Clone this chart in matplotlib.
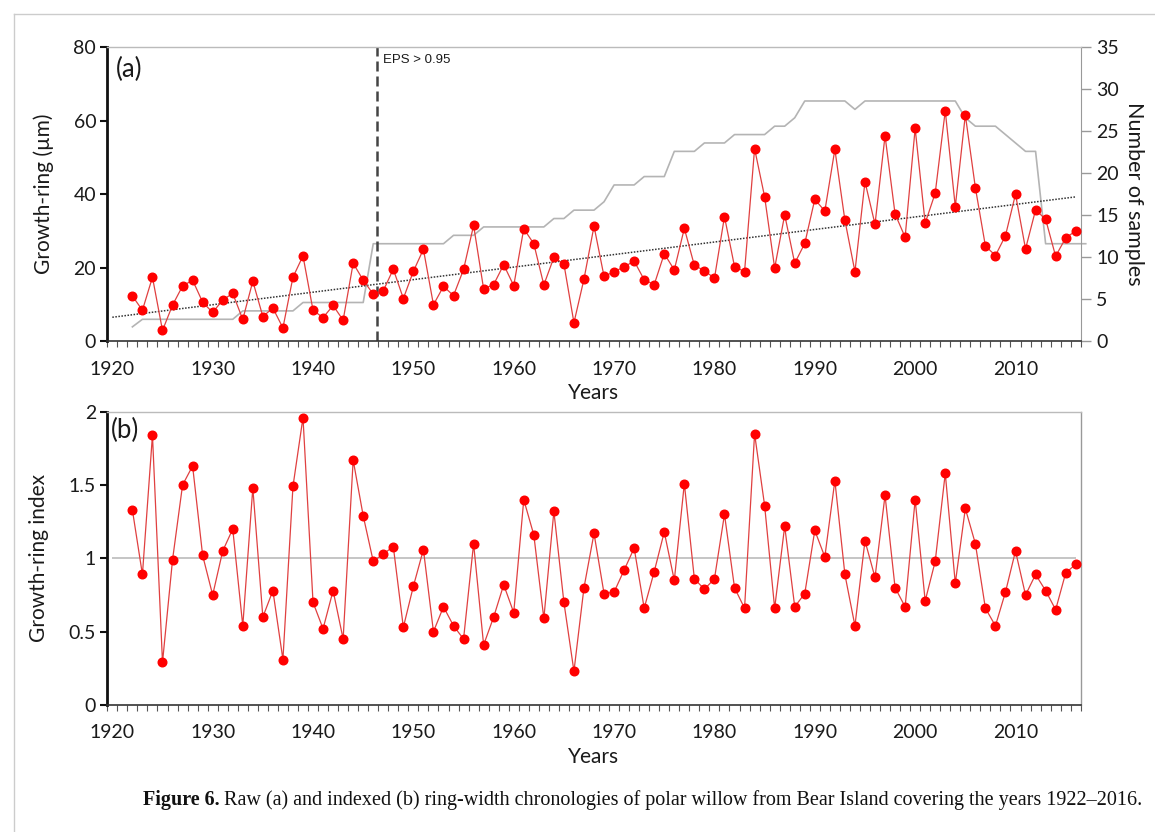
import numpy as np
import matplotlib
matplotlib.use("Agg")
import matplotlib.pyplot as plt
from matplotlib.lines import Line2D
from matplotlib.ticker import MultipleLocator, FixedLocator

plt.rcParams['font.family'] = ['Lato', 'DejaVu Sans']

# raw ring width (um), 1922-2016
years = np.arange(1922, 2017)
raw_width = [
    12.3, 8.4, 17.4, 2.9, 9.8, 15.0, 16.6, 10.6, 7.8, 11.2,
    13.0, 5.9, 16.3, 6.7, 9.0, 3.6, 17.4, 23.2, 8.4, 6.4,
    9.7, 5.7, 21.2, 16.6, 12.8, 13.7, 19.6, 11.6, 19.0, 25.0,
    9.9, 14.9, 12.4, 19.5, 31.5, 14.2, 15.4, 20.8, 15.1, 30.6,
    26.5, 15.3, 22.8, 21.0, 5.0, 16.9, 31.3, 17.6, 18.9, 20.2,
    21.8, 16.7, 15.4, 23.8, 19.4, 30.7, 20.6, 19.2, 17.1, 33.9,
    20.3, 18.9, 52.4, 39.3, 19.9, 34.4, 21.2, 26.6, 38.6, 35.4,
    52.2, 32.9, 18.9, 43.4, 31.8, 55.9, 34.6, 28.3, 57.9, 32.1,
    40.3, 62.7, 36.6, 61.6, 41.8, 25.9, 23.3, 28.7, 40.0, 25.1,
    35.7, 33.2, 23.1, 28.1, 30.0,
]

# ring-width index, 1922-2016
ring_index = [
    1.33, 0.89, 1.84, 0.29, 0.99, 1.50, 1.63, 1.02, 0.75, 1.05,
    1.20, 0.54, 1.48, 0.60, 0.78, 0.31, 1.49, 1.96, 0.70, 0.52,
    0.78, 0.45, 1.67, 1.29, 0.98, 1.03, 1.08, 0.53, 0.81, 1.06,
    0.50, 0.67, 0.54, 0.45, 1.10, 0.41, 0.60, 0.82, 0.63, 1.40,
    1.16, 0.59, 1.32, 0.70, 0.23, 0.80, 1.17, 0.76, 0.77, 0.92,
    1.07, 0.66, 0.91, 1.18, 0.85, 1.51, 0.86, 0.79, 0.86, 1.30,
    0.80, 0.66, 1.85, 1.36, 0.66, 1.22, 0.67, 0.76, 1.19, 1.01,
    1.53, 0.89, 0.54, 1.12, 0.87, 1.43, 0.80, 0.67, 1.40, 0.71,
    0.98, 1.58, 0.83, 1.34, 1.10, 0.66, 0.54, 0.77, 1.05, 0.75,
    0.89, 0.78, 0.65, 0.90, 0.96,
]

# number of samples, 1922-2017
sample_years = np.arange(1922, 2018)
n_samples = (
    [1.7] + [2.6] * 10 + [3.6] * 6 + [4.6] * 7 + [11.6] * 8
    + [12.6] * 3 + [13.6] * 7 + [14.6] * 2 + [15.6] * 3 + [16.6]
    + [18.6] * 3 + [19.6] * 3 + [22.6] * 3 + [23.6] * 3 + [24.6] * 4
    + [25.6] * 2 + [26.6] + [28.6] * 5 + [27.6] + [28.6] * 10
    + [26.6] + [25.6] * 3 + [24.6, 23.6, 22.6, 22.6] + [11.6] * 5
)

eps_year = 1946.4
decades = list(range(1920, 2020, 10))

red = '#ff0000'
red_line = '#e04040'
gray = '#b4b4b4'
text_col = '#1a1a1a'

fig = plt.figure(figsize=(11.55, 8.32), dpi=100)


def style_xaxis(ax):
    ax.set_xlim(1919.5, 2016.5)
    ax.xaxis.set_major_locator(FixedLocator(decades))
    ax.xaxis.set_minor_locator(FixedLocator(np.arange(1919.5, 2017, 1.0)))
    ax.tick_params(axis='x', which='major', length=0, pad=14, labelsize=14, labelcolor=text_col)
    ax.tick_params(axis='x', which='minor', length=4, width=0.8, color='#555555', direction='out')
    ax.set_xlabel('Years', fontsize=15, color=text_col, labelpad=4)
    ax.spines['left'].set_linewidth(2)
    ax.spines['left'].set_color('#111111')
    ax.spines['bottom'].set_linewidth(1.2)
    ax.spines['bottom'].set_color('#333333')
    ax.spines['top'].set_color('#bbbbbb')
    ax.spines['top'].set_linewidth(1)
    ax.spines['right'].set_color('#999999')
    ax.spines['right'].set_linewidth(1)
    ax.tick_params(axis='y', which='major', length=5, width=1.5, color='#111111',
                   pad=3, labelsize=14, labelcolor=text_col)


# (a) raw chronology
ax_a = fig.add_axes([0.0929, 0.590, 0.8428, 0.3532])
ax_n = ax_a.twinx()
ax_a.set_zorder(ax_n.get_zorder() + 1)
ax_a.patch.set_visible(False)

ax_n.plot(sample_years, n_samples, color=gray, lw=1.2, clip_on=False)
ax_n.set_ylim(0, 35)
ax_n.yaxis.set_major_locator(MultipleLocator(5))
ax_n.tick_params(axis='y', length=7, width=1, color='#999999', pad=4,
                 labelsize=14, labelcolor=text_col)
ax_n.set_ylabel('Number of samples', fontsize=15.5, color=text_col, rotation=270, labelpad=18)
for s in ax_n.spines.values():
    s.set_visible(False)
ax_n.spines['right'].set_visible(True)
ax_n.spines['right'].set_color('#999999')

ax_a.plot(years, raw_width, color=red_line, lw=0.9, marker='o', ms=6.2,
          mfc=red, mec=red, zorder=3)
slope, icpt = np.polyfit(years, raw_width, 1)
trend_x = np.array([1920, 2016])
ax_a.plot(trend_x, slope * trend_x + icpt, color='#333333', lw=1.1,
          linestyle=(0, (1, 1)), zorder=2)
ax_a.axvline(eps_year, color='#444444', lw=1.8, linestyle=(0, (4, 2)), zorder=1)
ax_a.text(eps_year + 0.6, 76.5, 'EPS > 0.95', fontsize=9.5, va='center',
          family=['Liberation Sans', 'DejaVu Sans'], color=text_col)
ax_a.set_ylim(0, 80)
ax_a.yaxis.set_major_locator(MultipleLocator(20))
style_xaxis(ax_a)
ax_a.spines['right'].set_visible(False)
ax_a.set_ylabel('Growth-ring (\u00b5m)', fontsize=15, color=text_col, labelpad=14)
ax_a.text(0.009, 0.925, '(a)', transform=ax_a.transAxes, fontsize=18.5, va='center', color=text_col)

# (b) indexed chronology
ax_b = fig.add_axes([0.0929, 0.1526, 0.8428, 0.3526])
ax_b.hlines(1, 1920, 2016, color='#c0c0c0', lw=1.3, zorder=1)
ax_b.plot(years, ring_index, color=red_line, lw=0.9, marker='o', ms=6.2,
          mfc=red, mec=red, zorder=3)
ax_b.set_ylim(0, 2)
ax_b.yaxis.set_major_locator(MultipleLocator(0.5))
ax_b.yaxis.set_major_formatter(lambda v, p: f'{v:g}')
style_xaxis(ax_b)
ax_b.set_ylabel('Growth-ring index', fontsize=15, color=text_col, labelpad=14)
ax_b.text(0.004, 0.935, '(b)', transform=ax_b.transAxes, fontsize=18.5, va='center', color=text_col)

# page frame lines
fig.add_artist(Line2D([14 / 1155, 1], [1 - 14 / 832] * 2, transform=fig.transFigure,
                      color='#cccccc', lw=1))
fig.add_artist(Line2D([14 / 1155] * 2, [0, 1 - 14 / 832], transform=fig.transFigure,
                      color='#cccccc', lw=1))

# caption
serif = ['Liberation Serif', 'DejaVu Serif']
cap_y = 1 - 800 / 832
t1 = fig.text(143 / 1155, cap_y, 'Figure 6.', fontsize=14.5, fontweight='bold',
              family=serif, va='center', color='#111111')
renderer = fig.canvas.get_renderer()
bb = t1.get_window_extent(renderer)
fig.text(bb.x1 / fig.bbox.width + 4 / 1155, cap_y,
         'Raw (a) and indexed (b) ring-width chronologies of polar willow from Bear Island '
         'covering the years 1922\u20132016.',
         fontsize=14.5, family=serif, va='center', color='#111111')

fig.savefig('out.png', dpi=100)
